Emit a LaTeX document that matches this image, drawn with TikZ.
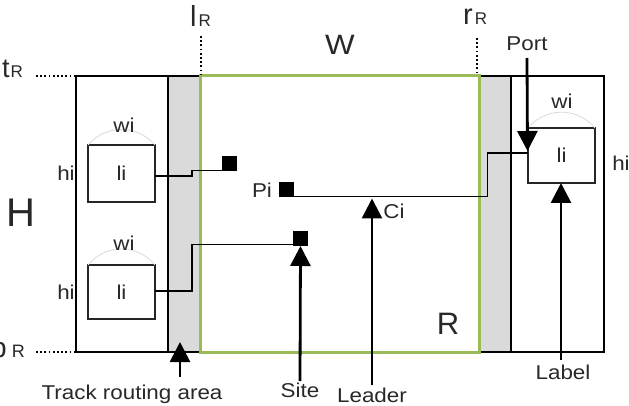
\documentclass[tikz,border=0pt]{standalone}
\usepackage{fontspec}
\setmainfont{Liberation Sans}
\newfontfamily\lbl[FakeStretch=1.12]{Liberation Sans}
\usetikzlibrary{arrows.meta,calc}
\definecolor{grn}{RGB}{155,187,89}
\definecolor{routegray}{RGB}{218,218,218}
\definecolor{txt}{RGB}{40,40,40}
\begin{document}
\begin{tikzpicture}[x=1pt,y=-1pt,
  wall/.style={line width=2.6pt,black},
  region/.style={draw=grn,line width=3pt},
  guide/.style={line width=2.2pt,dash pattern=on 1.8pt off 2.4pt},
  labelbox/.style={draw=black!85,line width=1.4pt,minimum width=67pt,inner sep=0pt,outer sep=0pt,fill=white,font=\lbl\fontsize{20}{20}\selectfont,text=txt},
  sitebox/.style={fill=black,minimum size=15pt,inner sep=0pt,outer sep=0pt},
  leader/.style={line width=1.4pt,black},
  pointer/.style={line width=2.8pt,black,-{Triangle[length=20pt,width=20pt]}},
  tag/.style={font=\lbl\fontsize{20}{20}\selectfont,text=txt,inner sep=0pt},
  bigtag/.style={text=txt,inner sep=0pt},
  arcst/.style={gray!30,line width=0.8pt}]
\useasboundingbox (0,0) rectangle (629,406);

% routing areas and frame
\fill[routegray] (168,76) rectangle (200,352);
\fill[routegray] (479,76) rectangle (511,352);
\draw[wall] (200,76) -- (76,76) -- (76,352) -- (200,352);
\draw[wall] (168,76) -- (168,352);
\draw[wall] (479,76) -- (604,76) -- (604,352) -- (479,352);
\draw[wall] (511,76) -- (511,352);
\draw[region] (200,76) rectangle (479,352);

% boundary labels
\node[bigtag,anchor=base west] (lR) at (190,27) {\fontsize{29}{29}\selectfont l\kern2pt\fontsize{17}{17}\selectfont R};
\node[bigtag,anchor=base west] (rR) at (463,25) {\fontsize{29}{29}\selectfont r\kern2pt\fontsize{17}{17}\selectfont R};
\node[bigtag,anchor=base west] (tR) at (2,78) {\fontsize{27}{27}\selectfont t\kern1pt\fontsize{17}{17}\selectfont R};
\node[bigtag,anchor=base west] (bR) at (-9,357) {\fontsize{28}{28}\selectfont b\kern5pt\fontsize{18}{18}\selectfont R};
\coordinate (lRa) at (201,36);  \coordinate (lRb) at (201,75);
\coordinate (rRa) at (477,38);  \coordinate (rRb) at (477,75);
\coordinate (tRa) at (36,76);   \coordinate (tRb) at (74,76);
\coordinate (bRa) at (36,352);  \coordinate (bRb) at (74,352);
\draw[guide] (lRa) -- (lRb);
\draw[guide] (rRa) -- (rRb);
\draw[guide] (tRa) -- (tRb);
\draw[guide] (bRa) -- (bRb);

\node[bigtag,font=\lbl\fontsize{28}{28}\selectfont] (W) at (340,45) {W};
\node[bigtag,font=\fontsize{40}{40}\selectfont] (H) at (21,213) {H};
\node[bigtag,font=\fontsize{31}{31}\selectfont] (R) at (448,324) {R};

% labels
\node[labelbox,minimum height=57pt] (l1) at (121.5,173.5) {li};
\node[labelbox,minimum height=54pt] (l2) at (121.5,292) {li};
\node[labelbox,minimum height=55pt] (l3) at (561.5,155.5) {li};
\draw[arcst] (l1.north west) arc[start angle=220.4, end angle=319.6, radius=44.0];
\draw[arcst] (l2.north west) arc[start angle=218.9, end angle=321.1, radius=43.0];
\draw[arcst] (l3.north west) arc[start angle=219.4, end angle=320.6, radius=43.3];
\node[tag] (w1) at (124,125) {wi};
\node[tag] (w2) at (124,243) {wi};
\node[tag] (w3) at (562,101) {wi};
\node[tag] (h1) at (66,173) {hi};
\node[tag] (h2) at (66,292) {hi};
\node[tag] (h3) at (621,163) {hi};

% sites
\node[sitebox] (s1) at (229,164) {};
\node[sitebox] (s2) at (300.5,238.5) {};
\node[sitebox] (p) at (286,190) {};
\node[tag] (pi) at (262,190) {Pi};

% leaders
\draw[leader] ($(l1.east)+(0,2.5)$) -- ++(37,0) |- ($(s1.south west)+(0,-1)$);
\draw[leader] ($(l2.east)+(0,-1)$) -- ++(37,0) |- ($(s2.south west)+(0,-1.5)$);
\draw[leader] ($(p.south east)+(0,-1)$) -- ++(194,0) |- ($(l3.west)+(0,-2.5)$);

% pointers
\node[tag] (trk) at (132,394) {Track routing area};
\coordinate (trkfoot) at (180,377);
\coordinate (trktip) at (180,342);
\draw[pointer] (trkfoot) -- (trktip);

\node[tag] (site) at (300,390) {Site};
\coordinate (sitefoot) at (300,381);
\draw[pointer] (sitefoot) -- (s2.south);

\node[tag] (lead) at (372,395) {Leader};
\coordinate (leadfoot) at (372,385);
\coordinate (ci) at (372,198.5);
\draw[pointer] (leadfoot) -- (ci);
\node[tag] (cilab) at (394,211) {Ci};

\node[tag] (lab) at (563,372) {Label};
\coordinate (labfoot) at (561,360);
\draw[pointer] (labfoot) -- (l3.south -| labfoot);

\node[tag] (port) at (527,44) {Port};
\coordinate (portfoot) at (527,58);
\coordinate (porttip) at (527.5,151);
\draw[pointer] (portfoot) -- (porttip);
\end{tikzpicture}
\end{document}
